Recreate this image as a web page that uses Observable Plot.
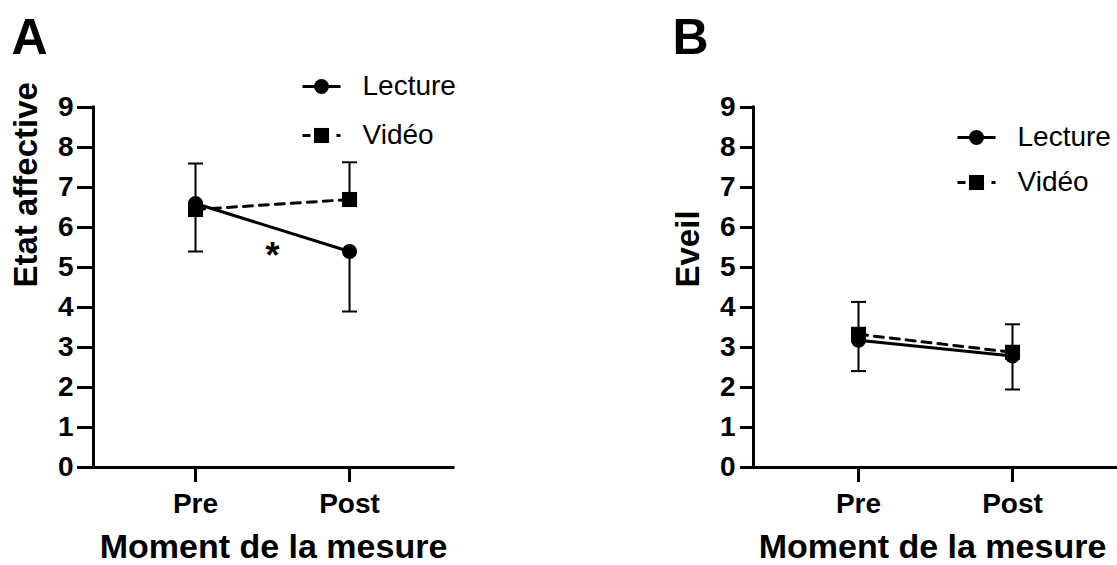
<!DOCTYPE html>
<html>
<head>
<meta charset="utf-8">
<script src="https://cdn.jsdelivr.net/npm/d3@7"></script>
<script src="https://cdn.jsdelivr.net/npm/@observablehq/plot@0.6"></script>
<style>
  html, body { margin: 0; padding: 0; background: #ffffff; }
  #chart { position: relative; width: 1117px; height: 565px; overflow: hidden; background: #ffffff; }
  #chart svg { position: absolute; top: 0; }
</style>
</head>
<body>
<div id="chart"></div>
<script>
// ---- data ----
const moments = ["Pre", "Post"];
const seriesNames = ["Lecture", "Vidéo"];
const yTicks = [0, 1, 2, 3, 4, 5, 6, 7, 8, 9];

// Panel A : Etat affective (mean, SD)
const affectLecture = [6.6, 5.4];
const affectLectureSD = [1.2, 1.5];
const affectVideo = [6.45, 6.7];
const affectVideoSD = [1.15, 0.93];
const affectAnnotations = [{pos: 0.5, value: 5.0, label: "*"}];

// Panel B : Eveil (mean, SD)
const eveilLecture = [3.18, 2.79];
const eveilLectureSD = [0.77, 0.84];
const eveilVideo = [3.33, 2.88];
const eveilVideoSD = [0.81, 0.70];
const eveilAnnotations = [];

// ---- helpers ----
const FONT = "'Liberation Sans', Arial, Helvetica, sans-serif";
// horizontal line symbol: half-length equals r
const hLine = {
  draw(context, size) {
    const w = Math.sqrt(size / Math.PI);
    context.moveTo(-w, 0);
    context.lineTo(w, 0);
  }
};

function rows(means, sds, dir) {
  return moments.map((m, i) => ({i, m, v: means[i], end: means[i] + dir * sds[i]}));
}

function panel(cfg) {
  const lec = rows(cfg.lecture, cfg.lectureSD, -1);
  const vid = rows(cfg.video, cfg.videoSD, +1);
  const legendDashes = [null, "8,9"];
  const symbols = ["circle", "square"];
  const radii = [7.5, 8.5];
  const legendMarks = seriesNames.flatMap((name, k) => [
    Plot.dot([name], {frameAnchor: "top-left", dx: cfg.legendDx, dy: cfg.legendDy[k],
      symbol: hLine, r: 19, stroke: "black", strokeWidth: 3, fill: "none",
      strokeDasharray: legendDashes[k] ?? undefined}),
    Plot.dot([name], {frameAnchor: "top-left", dx: cfg.legendDx, dy: cfg.legendDy[k],
      symbol: symbols[k], r: radii[k], fill: "black", stroke: "none"}),
    Plot.text([name], {frameAnchor: "top-left", dx: cfg.legendDx + 41, dy: cfg.legendDy[k],
      textAnchor: "start", lineAnchor: "middle", fontSize: 28, fontWeight: "normal", fill: "black"})
  ]);

  const svg = Plot.plot({
    width: cfg.width,
    height: 565,
    marginLeft: cfg.marginLeft,
    marginRight: cfg.marginRight,
    marginTop: 107,
    marginBottom: 98,
    style: {fontFamily: FONT, fontSize: "28px", color: "black", background: "white"},
    x: {type: "linear", domain: cfg.xDomain},
    y: {domain: [0, 9]},
    marks: [
      // axes
      Plot.axisY({ticks: yTicks, tickSize: cfg.yTickSize, tickPadding: cfg.yTickPadding, strokeWidth: 3,
        fontSize: 28, fontWeight: "bold", label: null, tickFormat: d => String(d)}),
      Plot.axisX({ticks: moments.map((m, i) => i), tickFormat: i => moments[i], tickSize: 15, tickPadding: 11,
        strokeWidth: 3, fontSize: 28, fontWeight: "bold", label: null}),
      Plot.ruleY([0], {strokeWidth: 3, strokeLinecap: "square"}),
      Plot.ruleX([cfg.xDomain[0]], {strokeWidth: 3, strokeLinecap: "square"}),
      // error bars (Lecture below, Vidéo above)
      Plot.ruleX(lec, {x: "i", y1: "v", y2: "end", strokeWidth: 2}),
      Plot.dot(lec, {x: "i", y: "end", symbol: hLine, r: 7.5, stroke: "black", strokeWidth: 2, fill: "none"}),
      Plot.ruleX(vid, {x: "i", y1: "v", y2: "end", strokeWidth: 2}),
      Plot.dot(vid, {x: "i", y: "end", symbol: hLine, r: 7.5, stroke: "black", strokeWidth: 2, fill: "none"}),
      // lines
      Plot.line(vid, {x: "i", y: "v", stroke: "black", strokeWidth: 3, strokeDasharray: "9,7"}),
      Plot.line(lec, {x: "i", y: "v", stroke: "black", strokeWidth: 3}),
      // markers
      Plot.dot(vid, {x: "i", y: "v", symbol: "square", r: 8.5, fill: "black", stroke: "none"}),
      Plot.dot(lec, {x: "i", y: "v", symbol: "circle", r: 7.5, fill: "black", stroke: "none"}),
      // annotations
      Plot.text(cfg.annotations, {x: "pos", y: "value", text: "label", fontSize: 36, fontWeight: "bold",
        lineAnchor: "bottom", fill: "black"}),
      // titles
      Plot.text([cfg.yLabel], {frameAnchor: "left", dx: cfg.yLabelDx, rotate: -90, lineAnchor: "middle",
        fontSize: 33, fontWeight: "bold", fill: "black"}),
      Plot.text(["Moment de la mesure"], {frameAnchor: "bottom", dx: cfg.xTitleDx, dy: 90, lineAnchor: "bottom",
        fontSize: 34, fontWeight: "bold", fill: "black"}),
      Plot.text([cfg.letter], {frameAnchor: "top-left", dx: cfg.letterDx, dy: -54, textAnchor: "start",
        lineAnchor: "bottom", fontSize: 50, fontWeight: "bold", fill: "black"}),
      ...legendMarks
    ]
  });
  svg.style.left = cfg.left + "px";
  return svg;
}

const chart = document.getElementById("chart");
chart.appendChild(panel({
  letter: "A", yLabel: "Etat affective", left: 0, width: 558,
  marginLeft: 93, marginRight: 105, xDomain: [-0.6623, 1.675],
  yTickSize: 16, yTickPadding: 4, yLabelDx: -67, letterDx: -82, xTitleDx: 0,
  legendDx: 228, legendDy: [-21, 28],
  lecture: affectLecture, lectureSD: affectLectureSD, video: affectVideo, videoSD: affectVideoSD,
  annotations: affectAnnotations
}));
chart.appendChild(panel({
  letter: "B", yLabel: "Eveil", left: 558, width: 559,
  marginLeft: 195, marginRight: 0, xDomain: [-0.6818, 1.6818],
  yTickSize: 13, yTickPadding: 5, yLabelDx: -65, letterDx: -81, xTitleDx: -3,
  legendDx: 223, legendDy: [30, 75],
  lecture: eveilLecture, lectureSD: eveilLectureSD, video: eveilVideo, videoSD: eveilVideoSD,
  annotations: eveilAnnotations
}));
</script>
</body>
</html>
